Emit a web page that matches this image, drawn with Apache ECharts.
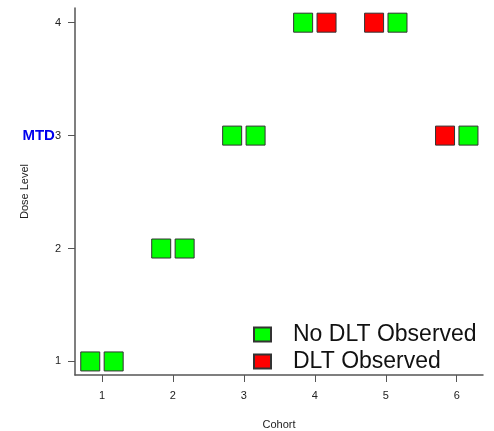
<!DOCTYPE html>
<html>
<head>
<meta charset="utf-8">
<script src="https://cdn.jsdelivr.net/npm/echarts@6/dist/echarts.min.js"></script>
<style>html,body{margin:0;padding:0;background:#fff;}#c{width:494px;height:431px;}</style>
</head>
<body>
<div id="c"></div>
<script>
// Data
const cohorts = [1, 2, 3, 4, 5, 6];
const doseLevels = [1, 2, 3, 4, 4, 3];
const patientA_DLT = [0, 0, 0, 0, 1, 1];
const patientB_DLT = [0, 0, 0, 1, 0, 0];
const xTicks = [1, 2, 3, 4, 5, 6];
const yTicks = [1, 2, 3, 4];
const mtdLevel = 3;
const seriesNames = ['No DLT Observed', 'DLT Observed'];

const OFFSET = 0.165;
const noDlt = [], dlt = [];
cohorts.forEach((c, i) => {
  const a = [c - OFFSET, doseLevels[i]];
  const b = [c + OFFSET, doseLevels[i]];
  (patientA_DLT[i] ? dlt : noDlt).push(a);
  (patientB_DLT[i] ? dlt : noDlt).push(b);
});

const font = 'Liberation Sans, Arial, Helvetica, sans-serif';
const axisCol = '#555';
const chart = echarts.init(document.getElementById('c'), null, {renderer: 'canvas'});
chart.setOption({
  animation: false,
  textStyle: {fontFamily: font},
  grid: {left: 75, right: 11, top: 8, bottom: 56, containLabel: false, outerBoundsMode: 'none'},
  xAxis: {
    type: 'value', min: 0.62, max: 6.37,
    name: 'Cohort', nameLocation: 'middle', nameGap: 44, nameMoveOverlap: false,
    nameTextStyle: {fontSize: 11, color: '#222', fontFamily: font},
    axisLine: {show: true, onZero: false, lineStyle: {color: axisCol, width: 1.5}},
    axisTick: {show: true, length: 7, lineStyle: {color: axisCol}, customValues: xTicks},
    axisLabel: {fontSize: 11, color: '#222', margin: 15, customValues: xTicks, fontFamily: font},
    splitLine: {show: false}
  },
  yAxis: {
    type: 'value', min: 0.88, max: 4.13,
    name: 'Dose Level', nameLocation: 'middle', nameGap: 45, nameMoveOverlap: false,
    nameTextStyle: {fontSize: 11, color: '#222', fontFamily: font},
    axisLine: {show: true, onZero: false, lineStyle: {color: axisCol, width: 1.5}},
    axisTick: {show: true, length: 7, lineStyle: {color: axisCol}, customValues: yTicks},
    axisLabel: {
      fontSize: 11, color: '#222', margin: 14, customValues: yTicks, fontFamily: font,
      formatter: v => v === mtdLevel ? '{m|MTD}' + v : String(v),
      rich: {m: {fontSize: 15, fontWeight: 'bold', color: '#0000ee', fontFamily: font}}
    },
    splitLine: {show: false}
  },
  legend: {
    orient: 'vertical', left: 248, top: 316,
    itemWidth: 17, itemHeight: 14, itemGap: 0,
    icon: 'rect',
    textStyle: {fontSize: 23, lineHeight: 27, color: '#111', fontFamily: font, padding: [0, 0, 0, 17]},
    data: seriesNames
  },
  series: [
    {name: seriesNames[0], type: 'scatter', symbol: 'rect', symbolSize: 19,
     itemStyle: {color: '#00ff00', borderColor: '#333', borderWidth: 1, opacity: 1}, data: noDlt},
    {name: seriesNames[1], type: 'scatter', symbol: 'rect', symbolSize: 19,
     itemStyle: {color: '#ff0000', borderColor: '#333', borderWidth: 1, opacity: 1}, data: dlt}
  ]
});
</script>
</body>
</html>
